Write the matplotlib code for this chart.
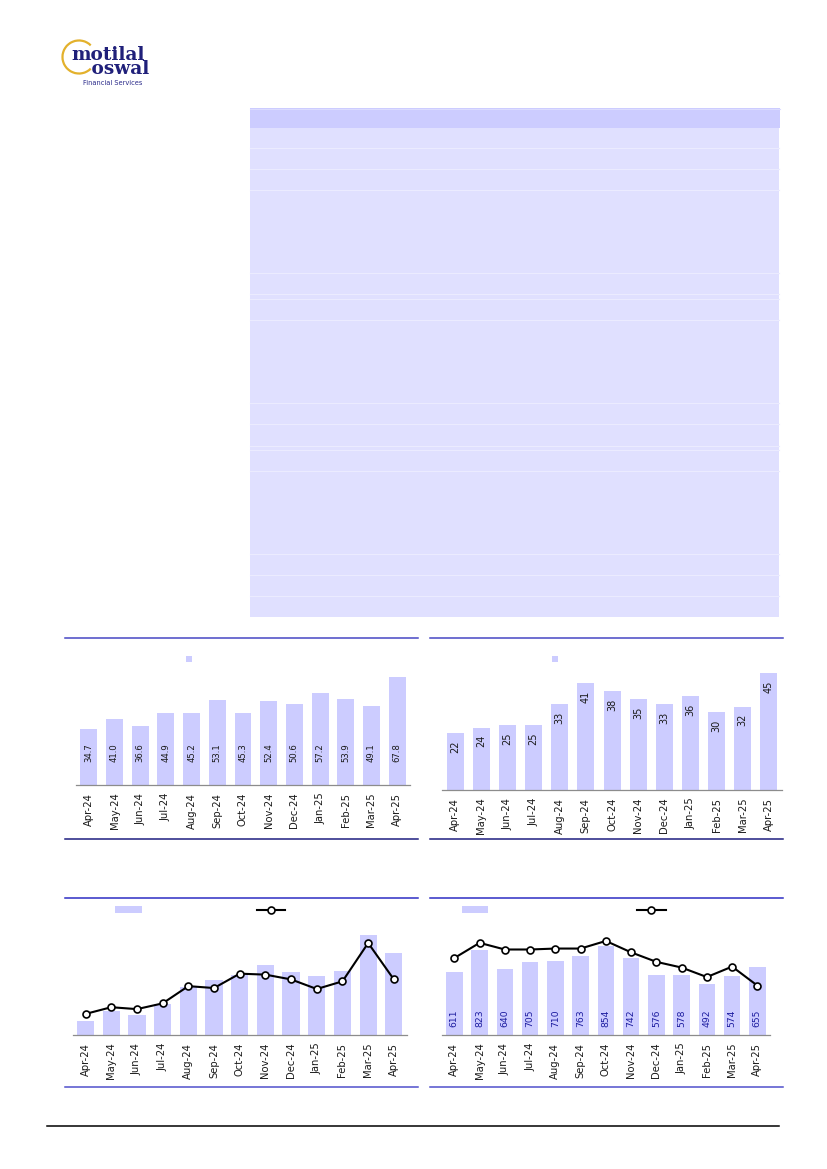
import matplotlib
matplotlib.use("Agg")
import matplotlib.pyplot as plt
from matplotlib.lines import Line2D
from matplotlib.patches import Rectangle, Arc
import numpy as np

W, H = 827, 1169

months = ["Apr-24", "May-24", "Jun-24", "Jul-24", "Aug-24", "Sep-24", "Oct-24",
          "Nov-24", "Dec-24", "Jan-25", "Feb-25", "Mar-25", "Apr-25"]

# Chart 1 bars (labelled)
c1_values = [34.7, 41.0, 36.6, 44.9, 45.2, 53.1, 45.3, 52.4, 50.6, 57.2, 53.9, 49.1, 67.8]
# Chart 2 bars (labelled)
c2_values = [22, 24, 25, 25, 33, 41, 38, 35, 33, 36, 30, 32, 45]
# Chart 3 bars and line (secondary axis)
c3_bars = [7.5, 12.5, 10.4, 16.0, 25.2, 28.7, 31.3, 36.5, 33.0, 30.8, 33.4, 52.2, 42.9]
c3_line = [2.2, 2.9, 2.7, 3.3, 5.1, 4.9, 6.4, 6.3, 5.8, 4.8, 5.6, 9.6, 5.8]
# Chart 4 bars (labelled) and line (secondary axis)
c4_bars = [611, 823, 640, 705, 710, 763, 854, 742, 576, 578, 492, 574, 655]
c4_line = [8.1, 9.7, 9.0, 9.0, 9.1, 9.1, 9.9, 8.7, 7.7, 7.1, 6.1, 7.2, 5.2]

BAR = "#ccccff"
ROW = "#e0e0ff"
NAVY = "#20207a"

plt.rcParams["font.family"] = ["DejaVu Sans"]

fig = plt.figure(figsize=(W / 100, H / 100), dpi=100)


def fx(x):
    return x / W


def fy(y):
    return 1 - y / H


def hline(x0, x1, y, color, lw):
    fig.add_artist(Line2D([fx(x0), fx(x1)], [fy(y), fy(y)], color=color, lw=lw,
                          transform=fig.transFigure))


def rect(x0, y0, x1, y1, color, z=0):
    fig.add_artist(Rectangle((fx(x0), fy(y1)), fx(x1) - fx(x0), fy(y0) - fy(y1),
                             facecolor=color, edgecolor="none", transform=fig.transFigure,
                             zorder=z))


def make_axes(x0, x1, ytop, ybot):
    ax = fig.add_axes([fx(x0), fy(ybot), fx(x1) - fx(x0), fy(ytop) - fy(ybot)])
    ax.set_facecolor("none")
    for s in ("top", "left", "right"):
        ax.spines[s].set_visible(False)
    ax.spines["bottom"].set_color("#8c8c8c")
    ax.spines["bottom"].set_linewidth(0.9)
    ax.set_yticks([])
    ax.set_xlim(-0.5, len(months) - 0.5)
    ax.set_xticks(np.arange(len(months)))
    ax.set_xticklabels(months, rotation=90, fontsize=7.2, color="#1a1a1a")
    ax.tick_params(axis="x", length=0, pad=5.5)
    return ax


# ---- Logo ----
fig.add_artist(Arc((fx(79), fy(57)), 33 / W, 33 / H, theta1=35, theta2=325,
                   color="#e3b12c", lw=1.6, transform=fig.transFigure))
fig.text(fx(71.5), fy(46.5), "motilal\n   oswal", fontsize=13.3, fontweight="bold",
         family="DejaVu Serif", color=NAVY, va="top", ha="left",
         multialignment="left", linespacing=0.66)
fig.text(fx(83), fy(85.0), "Financial Services", fontsize=4.8,
         color="#2a2a8a", va="baseline", ha="left")

# ---- Table block ----
rect(250, 108, 780, 128, BAR)
hline(250, 780, 108.5, "#dcdcff", 0.8)
rect(250, 128, 779, 617.3, ROW)
for y in [148.3, 169.3, 190, 273, 294.3, 299, 320.3, 403.3, 424.3, 445.7, 450,
          471.3, 554.3, 575.3, 596.3]:
    hline(250, 779, y, "#ebebff", 0.8)

# ---- Chart frames ----
hline(65, 418, 638.3, "#4646c4", 1.1)
hline(65, 418, 839, "#1e1e80", 1.1)
hline(430, 783, 638.3, "#4646c4", 1.1)
hline(430, 783, 839, "#1e1e80", 1.1)
hline(65, 418, 898.3, "#2e2ec4", 1.1)
hline(65, 418, 1086.7, "#5050cc", 1.1)
hline(430, 783, 898.3, "#2e2ec4", 1.1)
hline(430, 783, 1086.7, "#5050cc", 1.1)
hline(47, 779, 1126, "black", 1.1)

x = np.arange(len(months))

# ---- Chart 1 ----
ax1 = make_axes(76, 410, 657, 785)
ax1.set_ylim(0, 80)
ax1.bar(x, c1_values, width=0.66, color=BAR, zorder=2)
for xi, v in zip(x, c1_values):
    ax1.text(xi, min(v - 6, 26), f"{v:.1f}", rotation=90, ha="center", va="top",
             fontsize=6.1, color="#1a1a1a", zorder=3)
rect(186, 656, 192, 662, BAR)

# ---- Chart 2 ----
ax2 = make_axes(442, 782, 660, 790)
ax2.set_ylim(0, 50)
ax2.bar(x, c2_values, width=0.65, color=BAR, zorder=2)
for xi, v in zip(x, c2_values):
    ax2.text(xi, v - 2.8, f"{v}", rotation=90, ha="center", va="top",
             fontsize=7.0, color="#1a1a1a", zorder=3)
rect(552, 656, 558, 662, BAR)

# ---- Chart 3 ----
ax3 = make_axes(72.7, 406.7, 920, 1035)
ax3.set_ylim(0, 60)
ax3.bar(x, c3_bars, width=0.67, color=BAR, zorder=2)
ax3b = ax3.twinx()
ax3b.set_ylim(0, 12)
ax3b.axis("off")
ax3b.plot(x, c3_line, color="black", lw=1.5, marker="o", markersize=5,
          markerfacecolor="white", markeredgecolor="black", markeredgewidth=1.2, zorder=4)
rect(115, 906, 142, 913, BAR)
fig.add_artist(Line2D([fx(257), fx(285)], [fy(909.5), fy(909.5)], color="black", lw=1.5,
                      transform=fig.transFigure))
fig.add_artist(Line2D([fx(271)], [fy(909.5)], color="black", marker="o", markersize=5,
                      markerfacecolor="white", markeredgewidth=1.2, transform=fig.transFigure))

# ---- Chart 4 ----
ax4 = make_axes(441.7, 770, 921, 1035)
ax4.set_ylim(0, 1100)
ax4.bar(x, c4_bars, width=0.66, color=BAR, zorder=2)
for xi, v in zip(x, c4_bars):
    ax4.text(xi, 77, f"{v}", rotation=90, ha="center", va="bottom",
             fontsize=6.7, color="#1c1ca0", zorder=3)
ax4b = ax4.twinx()
ax4b.set_ylim(0, 12)
ax4b.axis("off")
ax4b.plot(x, c4_line, color="black", lw=1.5, marker="o", markersize=5,
          markerfacecolor="white", markeredgecolor="black", markeredgewidth=1.2, zorder=4)
rect(461.7, 906, 488.3, 913, BAR)
fig.add_artist(Line2D([fx(637), fx(666)], [fy(909.5), fy(909.5)], color="black", lw=1.5,
                      transform=fig.transFigure))
fig.add_artist(Line2D([fx(651)], [fy(909.5)], color="black", marker="o", markersize=5,
                      markerfacecolor="white", markeredgewidth=1.2, transform=fig.transFigure))

fig.savefig("out.png", dpi=100)
